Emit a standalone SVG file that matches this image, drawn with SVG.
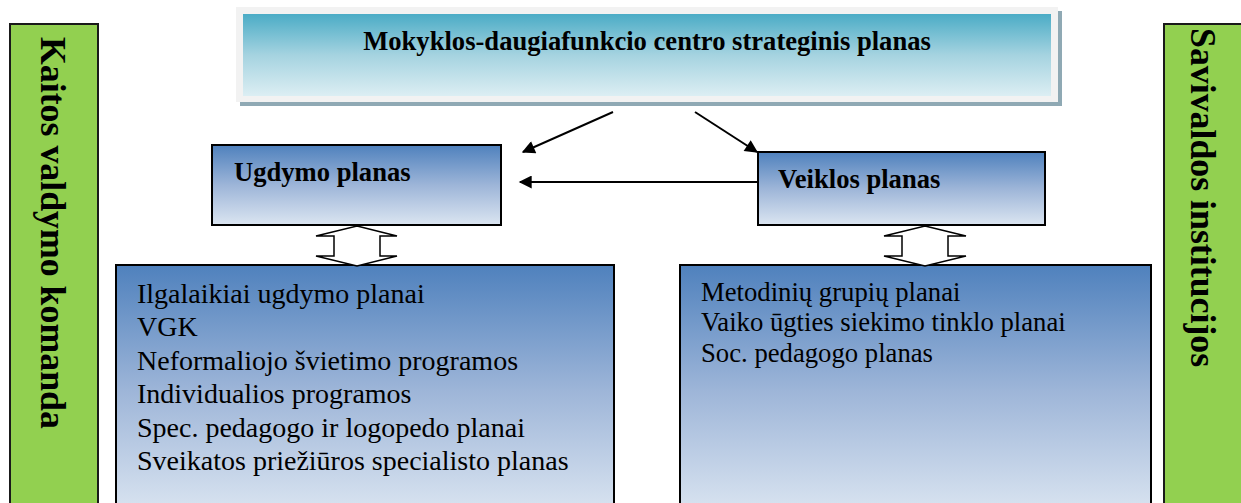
<svg xmlns="http://www.w3.org/2000/svg" width="1241" height="503" viewBox="0 0 1241 503">
<defs>
<linearGradient id="gTeal" x1="0" y1="0" x2="0" y2="1">
<stop offset="0" stop-color="#4BACC6"/>
<stop offset="0.5" stop-color="#A5D3E0"/>
<stop offset="1" stop-color="#DCEEF3"/>
</linearGradient>
<linearGradient id="gBlue" x1="0" y1="0" x2="0" y2="1">
<stop offset="0" stop-color="#4F81BD"/>
<stop offset="0.5" stop-color="#9DB5D8"/>
<stop offset="1" stop-color="#DBE5F1"/>
</linearGradient>
<marker id="ah" viewBox="0 0 10 10" refX="9" refY="5" markerWidth="14" markerHeight="13" markerUnits="userSpaceOnUse" orient="auto">
<path d="M0,0 L10,5 L0,10 z" fill="#000"/>
</marker>
</defs>
<style>
.green{fill:#92D050;stroke:#1a1a1a;stroke-width:2}
.box{fill:url(#gBlue);stroke:#000;stroke-width:2}
.vt{font-family:"Liberation Serif",serif;font-weight:bold;font-size:35.8px;fill:#000}
.hb{font-family:"Liberation Serif",serif;font-weight:bold;font-size:26.6px;fill:#000}
.lst{font-family:"Liberation Serif",serif;font-size:28px;fill:#000}
.lst2{font-family:"Liberation Serif",serif;font-size:26.7px;fill:#000}
.conn{stroke:#000;stroke-width:2;fill:none}
.dbl{fill:#fff;stroke:#000;stroke-width:1.5}
</style>
<rect width="1241" height="503" fill="#fff"/>
<g id="kaitos">
<rect class="green" x="10" y="24" width="88" height="490"/>
<text class="vt" transform="translate(41,37) rotate(90)">Kaitos valdymo komanda</text>
</g>
<g id="savivaldos">
<rect class="green" x="1164" y="24" width="90" height="490"/>
<text class="vt" transform="translate(1191,28) rotate(90)">Savivaldos institucijos</text>
</g>
<g id="strateginis">
<rect x="240" y="11" width="822" height="95" fill="#8FA9B4"/>
<rect x="236" y="7" width="822" height="95" fill="#F2F2F2"/>
<rect x="243" y="14" width="808" height="82" fill="url(#gTeal)"/>
<text class="hb" x="647" y="50" text-anchor="middle">Mokyklos-daugiafunkcio centro strateginis planas</text>
</g>
<g id="ugdymo">
<rect class="box" x="212" y="145" width="289" height="80"/>
<text class="hb" x="234" y="181">Ugdymo planas</text>
</g>
<g id="veiklos">
<rect class="box" x="758" y="152" width="287" height="73"/>
<text class="hb" x="778" y="188">Veiklos planas</text>
</g>
<g id="ugdymo-list">
<rect class="box" x="116" y="265" width="498" height="250"/>
<text class="lst" x="137" y="303">Ilgalaikiai ugdymo planai</text>
<text class="lst" x="137" y="336.4">VGK</text>
<text class="lst" x="137" y="369.8">Neformaliojo švietimo programos</text>
<text class="lst" x="137" y="403.2">Individualios programos</text>
<text class="lst" x="137" y="436.6">Spec. pedagogo ir logopedo planai</text>
<text class="lst" x="137" y="470">Sveikatos priežiūros specialisto planas</text>
</g>
<g id="veiklos-list">
<rect class="box" x="680" y="265" width="471" height="250"/>
<text class="lst2" x="701" y="301">Metodinių grupių planai</text>
<text class="lst2" x="701" y="331">Vaiko ūgties siekimo tinklo planai</text>
<text class="lst2" x="701" y="361.5">Soc. pedagogo planas</text>
</g>
<g id="connectors">
<line class="conn" x1="613" y1="112" x2="523" y2="152" marker-end="url(#ah)"/>
<line class="conn" x1="695" y1="112" x2="757" y2="152" marker-end="url(#ah)"/>
<line class="conn" x1="757" y1="182" x2="520" y2="182" marker-end="url(#ah)"/>
<path class="dbl" d="M357,226 L397,236 L380,236 L380,256 L397,256 L357,266 L316,256 L334,256 L334,236 L316,236 Z"/>
<path class="dbl" d="M925,226 L966,236 L948,236 L948,256 L966,256 L925,266 L884,256 L902,256 L902,236 L884,236 Z"/>
</g>
</svg>
